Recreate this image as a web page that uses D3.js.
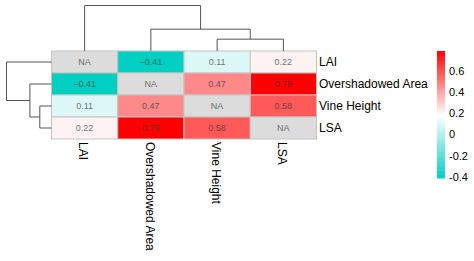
<!DOCTYPE html>
<html>
<head>
<meta charset="utf-8">
<script src="https://cdn.jsdelivr.net/npm/d3@7"></script>
<style>
  body { margin: 0; background: #fff; }
  svg { display: block; font-family: "Liberation Sans", Arial, sans-serif; }
</style>
</head>
<body>
<div id="chart"></div>
<script>
// variables (same order for rows and columns)
const vars = ["LAI", "Overshadowed Area", "Vine Height", "LSA"];

// correlation matrix, null = NA on the diagonal
const corr = [
    [null, -0.41, 0.11, 0.22],
    [-0.41, null, 0.47, 0.79],
    [0.11, 0.47, null, 0.58],
    [0.22, 0.79, 0.58, null]
];

// clustering tree (merge heights relative to the top merge)
const tree = {
    h: 1.0, children: [
        { leaf: 0 },
        { h: 0.48, children: [
            { leaf: 1 },
            { h: 0.26, children: [{ leaf: 2 }, { leaf: 3 }] }
        ] }
    ]
};

const legendTicks = [-0.4, -0.2, 0, 0.2, 0.4, 0.6];
const valueRange = [-0.41, 0.79];

const width = 474, height = 261;

const svg = d3.select('#chart')
    .append('svg')
    .attr('width', width)
    .attr('height', height);

const x = d3.scaleBand().domain(d3.range(vars.length)).range([51.5, 316.5]);
const y = d3.scaleBand().domain(d3.range(vars.length)).range([51, 139]);

const mid = (valueRange[0] + valueRange[1]) / 2;
const color = d3.scaleLinear()
    .domain([valueRange[0], mid, valueRange[1]])
    .range(['#00cfc1', '#ffffff', '#ff0000']);

// cells
const cells = [];
corr.forEach((row, i) => row.forEach((v, j) => cells.push({ i, j, v })));

const cellG = svg.append('g').attr('class', 'cells');
cellG.selectAll('rect')
    .data(cells)
    .enter().append('rect')
    .attr('x', d => x(d.j))
    .attr('y', d => y(d.i))
    .attr('width', x.bandwidth())
    .attr('height', y.bandwidth())
    .attr('fill', d => d.v === null ? '#dcdcdc' : color(d.v))
    .attr('stroke', '#c4c4c4')
    .attr('stroke-width', 1);

cellG.selectAll('text')
    .data(cells)
    .enter().append('text')
    .attr('x', d => x(d.j) + x.bandwidth() / 2)
    .attr('y', d => y(d.i) + y.bandwidth() / 2)
    .attr('dy', '0.35em')
    .attr('text-anchor', 'middle')
    .attr('font-size', '9px')
    .attr('fill', d => {
        const bg = d.v === null ? '#dcdcdc' : color(d.v);
        return d3.interpolateRgb(bg, '#333')(0.65);
    })
    .text(d => d.v === null ? 'NA' : d3.format('.2f')(d.v));

// row labels
svg.append('g')
    .selectAll('text')
    .data(vars)
    .enter().append('text')
    .attr('x', 319)
    .attr('y', (d, i) => y(i) + y.bandwidth() / 2)
    .attr('dy', '0.35em')
    .attr('font-size', '12px')
    .attr('fill', '#000')
    .text(d => d);

// column labels, rotated
svg.append('g')
    .selectAll('text')
    .data(vars)
    .enter().append('text')
    .attr('transform', (d, i) => `translate(${x(i) + x.bandwidth() / 2 - 1},142) rotate(90)`)
    .attr('dy', '0.35em')
    .attr('font-size', '12px')
    .attr('fill', '#000')
    .text(d => d);

// dendrograms
const root = d3.hierarchy(tree);
root.eachAfter(n => {
    if (n.data.leaf !== undefined) {
        n.pos = n.data.leaf;
        n.h = 0;
    } else {
        n.pos = d3.mean(n.children, c => c.pos);
        n.h = n.data.h;
    }
});

function drawDendro(posScale, hScale, vertical) {
    const pt = (p, h) => vertical ? [posScale(p), hScale(h)] : [hScale(h), posScale(p)];
    const links = root.descendants().filter(n => n.children);
    svg.append('g')
        .selectAll('path')
        .data(links)
        .enter().append('path')
        .attr('fill', 'none')
        .attr('stroke', '#555')
        .attr('stroke-width', 1)
        .attr('d', n => {
            const [a, b] = n.children;
            return d3.line()([
                pt(a.pos, a.h), pt(a.pos, n.h), pt(b.pos, n.h), pt(b.pos, b.h)
            ]);
        });
}

// leaf index (possibly fractional) -> pixel centre
const colPos = i => x(0) + x.step() * (i + 0.5);
const rowPos = i => y(0) + y.step() * (i + 0.5);
drawDendro(colPos, d3.scaleLinear().domain([0, 1]).range([51, 5.5]), true);
drawDendro(rowPos, d3.scaleLinear().domain([0, 1]).range([51.5, 6.5]), false);

// legend
const ly = d3.scaleLinear().domain(valueRange).range([178, 51]);
const steps = d3.range(100).map(k => valueRange[0] + (valueRange[1] - valueRange[0]) * k / 100);
const stepH = (ly(valueRange[0]) - ly(valueRange[1])) / 100;
const legend = svg.append('g').attr('class', 'legend');
legend.selectAll('rect')
    .data(steps)
    .enter().append('rect')
    .attr('x', 437)
    .attr('y', d => ly(d) - stepH)
    .attr('width', 8)
    .attr('height', stepH + 0.5)
    .attr('fill', d => color(d + (valueRange[1] - valueRange[0]) / 200));

legend.selectAll('text')
    .data(legendTicks)
    .enter().append('text')
    .attr('x', 449)
    .attr('y', d => ly(d))
    .attr('dy', '0.35em')
    .attr('font-size', '11px')
    .attr('fill', '#000')
    .text(d => d);
</script>
</body>
</html>
